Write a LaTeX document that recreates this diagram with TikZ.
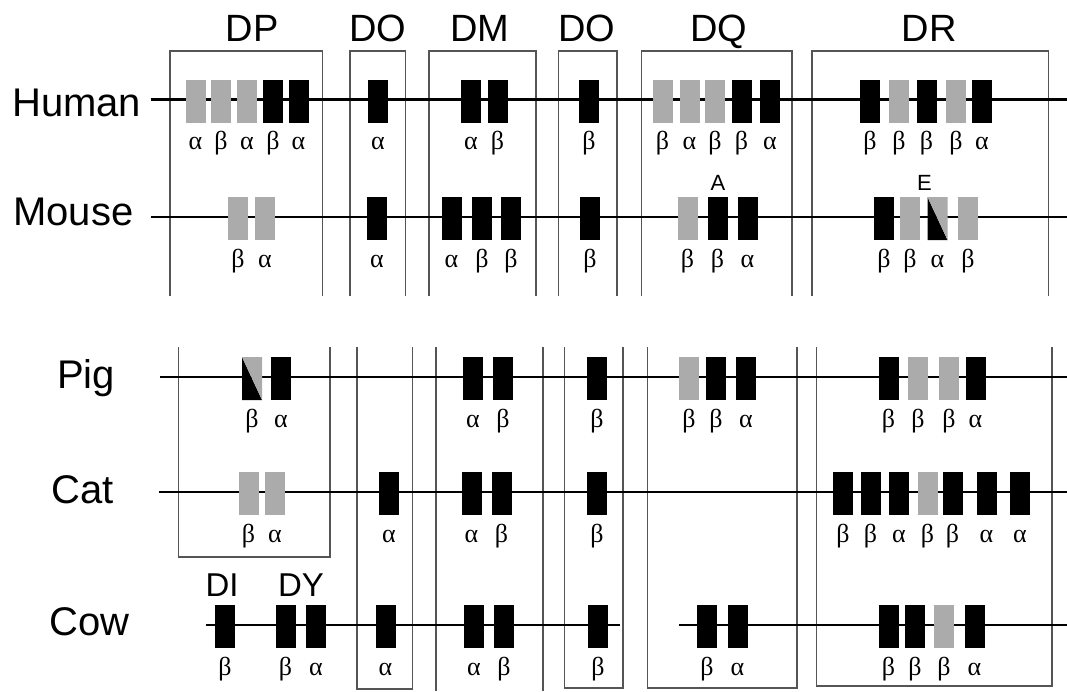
\documentclass[tikz,border=0pt]{standalone}
\usepackage{fontspec}
\setmainfont{Liberation Sans}
\newfontfamily\grk{Liberation Serif}
\definecolor{genegray}{HTML}{ABABAB}
\definecolor{boxgray}{HTML}{555555}
\newcommand\generow[3]{%
  \foreach \gx/\gs/\gl [count=\gi] in {#3}{%
    \node[\gs] (#1-\gi) at (\gx,#2+1.5) {};
    \node[glab] (#1-l\gi) at (\gx,#2+50) {\gl};
  }}
\begin{document}
\begin{tikzpicture}[x=1pt,y=-1pt,
  gene/.style={draw=none, minimum width=20pt, minimum height=43pt, inner sep=0pt, outer sep=0pt},
  blk/.style={gene, fill=black},
  gry/.style={gene, fill=genegray},
  spl/.style={gene, path picture={
     \fill[black] (path picture bounding box.north west) -- (path picture bounding box.south west) -- (path picture bounding box.south east) -- cycle;
     \fill[genegray] (path picture bounding box.north west) -- (path picture bounding box.north east) -- (path picture bounding box.south east) -- cycle;}},
  glab/.style={font=\grk\fontsize{26}{26}\selectfont, anchor=base, inner sep=0pt},
  species/.style={font=\fontsize{40}{40}\selectfont, anchor=base west, inner sep=0pt},
  head/.style={font=\fontsize{38}{38}\selectfont, anchor=base, inner sep=0pt},
  small/.style={font=\fontsize{33}{33}\selectfont, anchor=base, inner sep=0pt},
  genemark/.style={font=\fontsize{22}{22}\selectfont, anchor=base, inner sep=0pt},
  chrom/.style={line width=2.7pt, black},
  famtop/.style={line width=1.3pt, boxgray},
  fambox/.style={line width=1.3pt, boxgray}]
\useasboundingbox (0,0) rectangle (1067,691);
\fill[white] (0,0) rectangle (1067,691);

% ---------- family boxes, top panel (open at the bottom)
\foreach \a/\b in {170/322.5, 350/405.5, 429/536, 558.5/617, 641.5/792, 812/1048.5}{
  \draw[famtop] (\a,296) -- (\a,51) -- (\b,51) -- (\b,296);
}
% ---------- family boxes, bottom panel
\draw[fambox] (178.5,347) -- (178.5,557) -- (330,557) -- (330,347);
\draw[fambox] (357,347) -- (357,689) -- (412.5,689) -- (412.5,347);
\draw[fambox] (436,347) -- (436,691);
\draw[fambox] (543,347) -- (543,691);
\draw[fambox] (564.5,347) -- (564.5,688) -- (623,688) -- (623,347);
\draw[fambox] (647.5,347) -- (647.5,688) -- (797,688) -- (797,347);
\draw[fambox] (816.5,347) -- (816.5,686) -- (1052,686) -- (1052,347);

% ---------- family headers
\node[head] (hDP) at (252,41.5) {DP};
\node[head] (hDO) at (378,41.5) {DO};
\node[head] (hDM) at (480,41.5) {DM};
\node[head] (hDO2) at (586.5,41.5) {DO};
\node[head] (hDQ) at (719,41.5) {DQ};
\node[head] (hDR) at (929,41.5) {DR};
\node[small] (hDI) at (222,596.5) {DI};
\node[small] (hDY) at (301,596.5) {DY};

% ---------- species names
\node[species] (sHuman) at (12,116) {Human};
\node[species] (sMouse) at (13,225) {Mouse};
\node[species] (sPig) at (57,388.5) {Pig};
\node[species] (sCat) at (51,503.5) {Cat};
\node[species] (sCow) at (49,635) {Cow};

% ---------- chromosome lines
\coordinate (hs) at (150.5,99.5); \coordinate (he) at (1067,99.5);
\coordinate (ms) at (150.5,217);  \coordinate (me) at (1067,217);
\coordinate (ps) at (160,377);    \coordinate (pe) at (1067,377);
\coordinate (cs) at (158.5,492);  \coordinate (ce) at (1067,492);
\coordinate (ws) at (205.5,625);  \coordinate (wm) at (619.5,625);
\coordinate (wn) at (679,625);    \coordinate (we) at (1067,625);
\draw[chrom] (hs) -- (he);
\draw[chrom] (ms) -- (me);
\draw[chrom] (ps) -- (pe);
\draw[chrom] (cs) -- (ce);
\draw[chrom] (ws) -- (wm);
\draw[chrom] (wn) -- (we);

% ---------- genes
\generow{hu}{99.5}{195.5/gry/α, 221/gry/β, 247/gry/α, 273/blk/β, 298.5/blk/α,
  378/blk/α, 471/blk/α, 497.5/blk/β, 589/blk/β,
  662.5/gry/β, 689.5/gry/α, 715/gry/β, 741.5/blk/β, 770/blk/α,
  870/blk/β, 899/gry/β, 926.5/blk/β, 956/gry/β, 982/blk/α}
\generow{mo}{217}{238/gry/β, 265/gry/α, 377/blk/α,
  451.5/blk/α, 482/blk/β, 511/blk/β, 590/blk/β,
  687.5/gry/β, 717.5/blk/β, 747.5/blk/α,
  884/blk/β, 910/gry/β, 937.5/spl/α, 968/gry/β}
\generow{pi}{377}{252/spl/β, 281/blk/α, 473/blk/α, 503/blk/β, 597/blk/β,
  689/gry/β, 716/blk/β, 746/blk/α,
  888.5/blk/β, 918/gry/β, 949/gry/β, 975.5/blk/α}
\generow{ca}{492}{248.5/gry/β, 275/gry/α, 389/blk/α, 471.5/blk/α, 501.5/blk/β, 597/blk/β,
  843/blk/β, 870.5/blk/β, 899/blk/α, 927.5/gry/β, 952.5/blk/β, 986.5/blk/α, 1020/blk/α}
\generow{co}{625}{225/blk/β, 285.5/blk/β, 316/blk/α, 385.5/blk/α,
  474/blk/α, 504/blk/β, 598/blk/β, 707/blk/β, 737.5/blk/α,
  888.5/blk/β, 915/blk/β, 944/gry/β, 974.5/blk/α}

% ---------- markers
\node[genemark] (mA) at (718,190) {A};
\node[genemark] (mE) at (924.5,190) {E};
\end{tikzpicture}
\end{document}
